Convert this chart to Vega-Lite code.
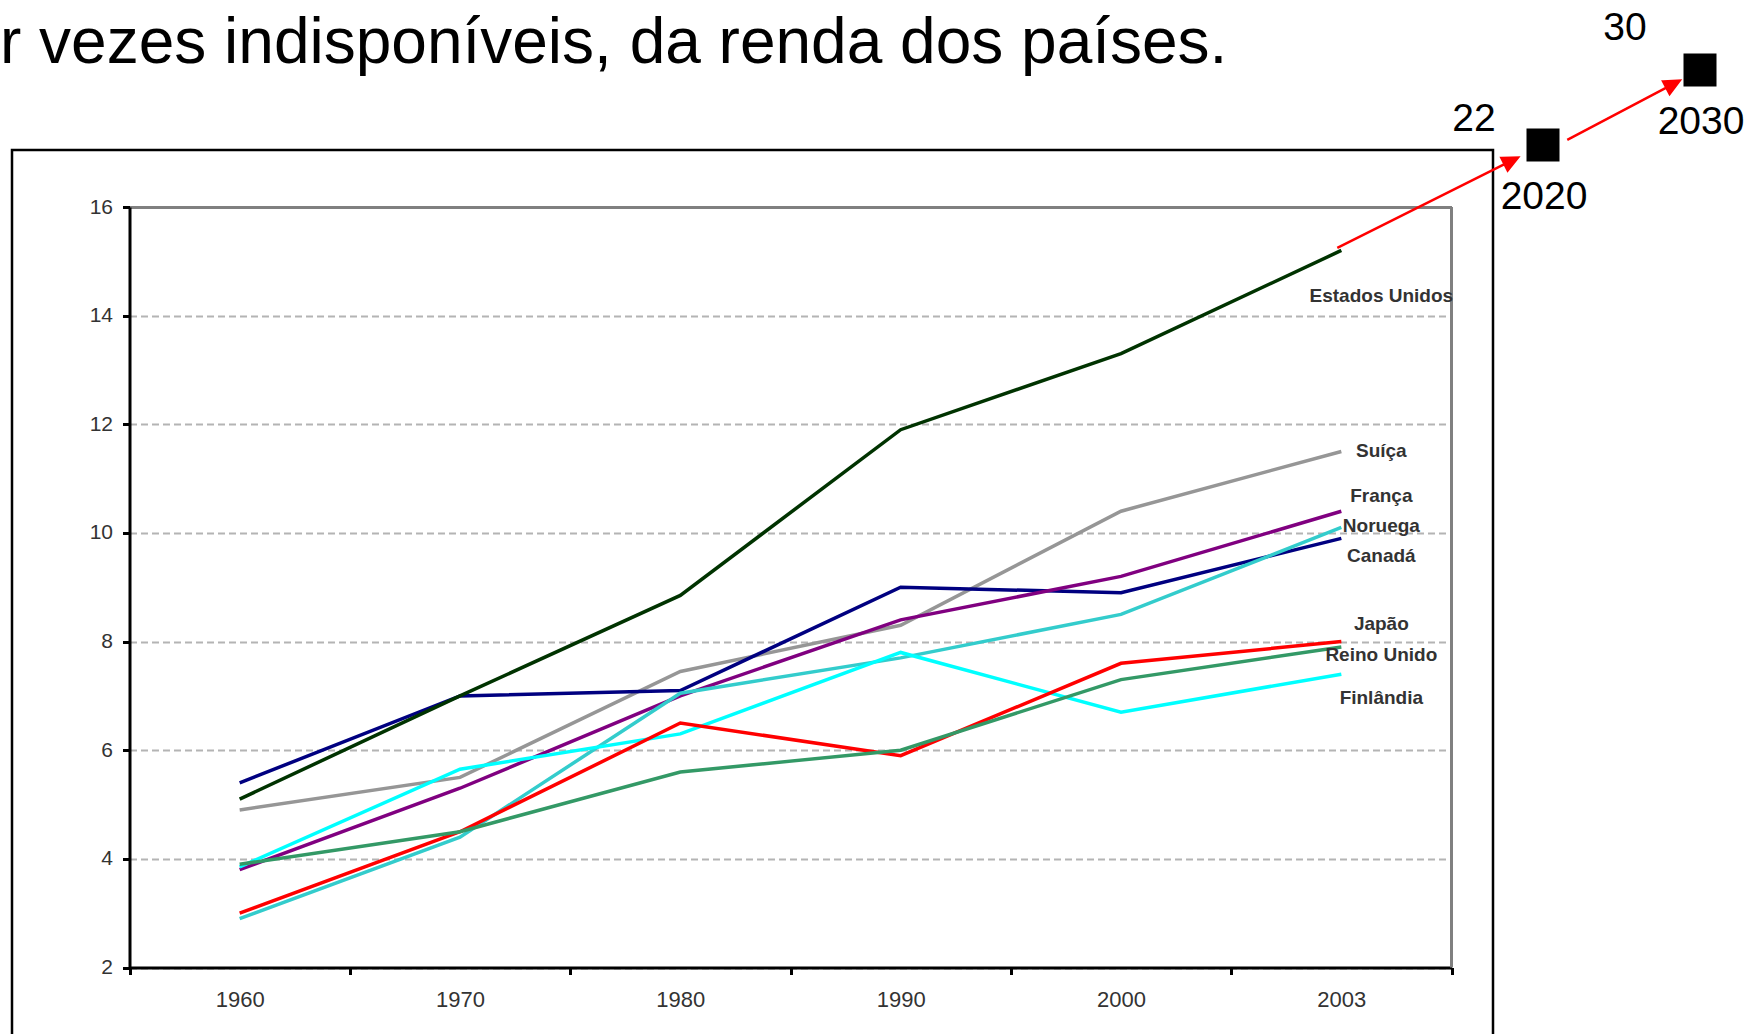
{
  "$schema": "https://vega.github.io/schema/vega-lite/v6.json",
  "autosize": {"type": "none"},
  "width": 1481,
  "height": 890,
  "padding": {"left": 12, "top": 150, "right": 271, "bottom": 0},
  "background": "white",
  "config": {
    "view": {"stroke": "#000000", "strokeWidth": 2.5},
    "font": "Liberation Sans"
  },
  "title": {
    "text": "r vezes indisponíveis, da renda dos países.",
    "orient": "top",
    "anchor": "start",
    "frame": "group",
    "offset": 0,
    "dx": -12,
    "dy": 117.5,
    "baseline": "alphabetic",
    "fontSize": 64,
    "fontWeight": "normal",
    "color": "#000000",
    "font": "Liberation Sans"
  },
  "datasets": {
    "series": [
      {"country": "Suíça", "year": "1960", "value": 4.9},
      {"country": "Suíça", "year": "1970", "value": 5.5},
      {"country": "Suíça", "year": "1980", "value": 7.45},
      {"country": "Suíça", "year": "1990", "value": 8.3},
      {"country": "Suíça", "year": "2000", "value": 10.4},
      {"country": "Suíça", "year": "2003", "value": 11.5},
      {"country": "Canadá", "year": "1960", "value": 5.4},
      {"country": "Canadá", "year": "1970", "value": 7.0},
      {"country": "Canadá", "year": "1980", "value": 7.1},
      {"country": "Canadá", "year": "1990", "value": 9.0},
      {"country": "Canadá", "year": "2000", "value": 8.9},
      {"country": "Canadá", "year": "2003", "value": 9.9},
      {"country": "França", "year": "1960", "value": 3.8},
      {"country": "França", "year": "1970", "value": 5.3},
      {"country": "França", "year": "1980", "value": 7.0},
      {"country": "França", "year": "1990", "value": 8.4},
      {"country": "França", "year": "2000", "value": 9.2},
      {"country": "França", "year": "2003", "value": 10.4},
      {"country": "Noruega", "year": "1960", "value": 2.9},
      {"country": "Noruega", "year": "1970", "value": 4.4},
      {"country": "Noruega", "year": "1980", "value": 7.05},
      {"country": "Noruega", "year": "1990", "value": 7.7},
      {"country": "Noruega", "year": "2000", "value": 8.5},
      {"country": "Noruega", "year": "2003", "value": 10.1},
      {"country": "Finlândia", "year": "1960", "value": 3.85},
      {"country": "Finlândia", "year": "1970", "value": 5.65},
      {"country": "Finlândia", "year": "1980", "value": 6.3},
      {"country": "Finlândia", "year": "1990", "value": 7.8},
      {"country": "Finlândia", "year": "2000", "value": 6.7},
      {"country": "Finlândia", "year": "2003", "value": 7.4},
      {"country": "Japão", "year": "1960", "value": 3.0},
      {"country": "Japão", "year": "1970", "value": 4.5},
      {"country": "Japão", "year": "1980", "value": 6.5},
      {"country": "Japão", "year": "1990", "value": 5.9},
      {"country": "Japão", "year": "2000", "value": 7.6},
      {"country": "Japão", "year": "2003", "value": 8.0},
      {"country": "Reino Unido", "year": "1960", "value": 3.9},
      {"country": "Reino Unido", "year": "1970", "value": 4.5},
      {"country": "Reino Unido", "year": "1980", "value": 5.6},
      {"country": "Reino Unido", "year": "1990", "value": 6.0},
      {"country": "Reino Unido", "year": "2000", "value": 7.3},
      {"country": "Reino Unido", "year": "2003", "value": 7.9},
      {"country": "Estados Unidos", "year": "1960", "value": 5.1},
      {"country": "Estados Unidos", "year": "1970", "value": 7.0},
      {"country": "Estados Unidos", "year": "1980", "value": 8.85},
      {"country": "Estados Unidos", "year": "1990", "value": 11.9},
      {"country": "Estados Unidos", "year": "2000", "value": 13.3},
      {"country": "Estados Unidos", "year": "2003", "value": 15.2}
    ],
    "labels": [
      {"country": "Estados Unidos", "year": "2003", "labelAt": 14.36},
      {"country": "Suíça", "year": "2003", "labelAt": 11.51},
      {"country": "França", "year": "2003", "labelAt": 10.68},
      {"country": "Noruega", "year": "2003", "labelAt": 10.12},
      {"country": "Canadá", "year": "2003", "labelAt": 9.57},
      {"country": "Japão", "year": "2003", "labelAt": 8.32},
      {"country": "Reino Unido", "year": "2003", "labelAt": 7.75},
      {"country": "Finlândia", "year": "2003", "labelAt": 6.97}
    ],
    "projection": [
      {"year": 2020, "value": 22},
      {"year": 2030, "value": 30}
    ]
  },
  "layer": [
    {
      "layer": [
        {
          "data": {"name": "series"},
          "mark": {"type": "line", "strokeWidth": 3.5},
          "encoding": {
            "x": {
              "field": "year",
              "type": "ordinal",
              "scale": {"type": "band", "domain": ["1960", "1970", "1980", "1990", "2000", "2003"], "range": [117.5, 1439.5], "paddingInner": 0, "paddingOuter": 0},
              "axis": {
                "orient": "bottom",
                "offset": -72.5,
                "tickBand": "extent",
                "domainColor": "#000000",
                "domainWidth": 3,
                "tickColor": "#000000",
                "tickWidth": 3,
                "tickSize": 7,
                "labelFontSize": 22,
                "labelFont": "Liberation Sans",
                "labelColor": "#333333",
                "labelPadding": 15,
                "labelAngle": 0,
                "grid": false,
                "title": null
              }
            },
            "y": {
              "field": "value",
              "type": "quantitative",
              "scale": {"domain": [2, 16], "range": [817.5, 57], "nice": false, "zero": false},
              "axis": {
                "orient": "left",
                "offset": -117.5,
                "values": [2, 4, 6, 8, 10, 12, 14, 16],
                "format": "d",
                "domainColor": "#000000",
                "domainWidth": 3,
                "tickColor": "#000000",
                "tickWidth": 3,
                "tickSize": 7,
                "labelFontSize": 21,
                "labelFont": "Liberation Sans",
                "labelColor": "#333333",
                "labelPadding": 10,
                "grid": true,
                "gridColor": {"condition": {"test": "datum.value === 16", "value": "#808080"}, "value": "#b4b4b4"},
                "gridDash": {"condition": {"test": "datum.value === 16", "value": []}, "value": [7, 4]},
                "gridWidth": {"condition": {"test": "datum.value === 16", "value": 3}, "value": 2},
                "title": null
              }
            },
            "color": {
              "field": "country",
              "type": "nominal",
              "scale": {
                "domain": ["Suíça", "Canadá", "França", "Noruega", "Finlândia", "Japão", "Reino Unido", "Estados Unidos"],
                "range": ["#969696", "#000080", "#800080", "#33CCCC", "#00FFFF", "#FF0000", "#339966", "#003300"]
              },
              "legend": null
            }
          }
        },
        {
          "data": {"values": [{"edge": "right"}]},
          "mark": {"type": "rule", "color": "#808080", "strokeWidth": 3},
          "encoding": {
            "x": {"datum": "2003", "type": "ordinal", "bandPosition": 1},
            "y": {"datum": 2, "type": "quantitative"},
            "y2": {"datum": 16}
          }
        },
        {
          "data": {"name": "labels"},
          "mark": {"type": "text", "align": "center", "baseline": "middle", "dx": 40, "fontSize": 19, "fontWeight": "bold", "color": "#333333", "font": "Liberation Sans"},
          "encoding": {
            "x": {"field": "year", "type": "ordinal"},
            "y": {"field": "labelAt", "type": "quantitative"},
            "text": {"field": "country", "type": "nominal"}
          }
        }
      ]
    },
    {
      "data": {"name": "projection"},
      "encoding": {
        "x": {"field": "year", "type": "quantitative", "scale": {"domain": [2020, 2030], "range": [1531, 1688], "nice": false, "zero": false}, "axis": null},
        "y": {"field": "value", "type": "quantitative", "scale": {"domain": [22, 30], "range": [-5, -80], "nice": false, "zero": false}, "axis": null}
      },
      "layer": [
        {
          "transform": [{"filter": "datum.year === 2020"}],
          "mark": {"type": "point", "shape": "M -230 0 L -43 0 M -43 -7 L -28 0 L -43 7 Z", "size": 4, "angle": 333.43, "filled": true, "fill": "#ff0000", "stroke": "#ff0000", "strokeWidth": 2.5, "opacity": 1}
        },
        {
          "transform": [{"filter": "datum.year === 2030"}],
          "mark": {"type": "point", "shape": "M -150 0 L -38 0 M -38 -7 L -23 0 L -38 7 Z", "size": 4, "angle": 332.24, "filled": true, "fill": "#ff0000", "stroke": "#ff0000", "strokeWidth": 2.5, "opacity": 1}
        },
        {
          "mark": {"type": "square", "size": 1089, "color": "#000000", "opacity": 1, "filled": true}
        },
        {
          "transform": [{"filter": "datum.year === 2020"}],
          "mark": {"type": "text", "align": "center", "baseline": "middle", "dx": -69, "dy": -26, "fontSize": 39, "color": "#000000", "font": "Liberation Sans"},
          "encoding": {"text": {"field": "value", "type": "nominal"}}
        },
        {
          "transform": [{"filter": "datum.year === 2030"}],
          "mark": {"type": "text", "align": "center", "baseline": "middle", "dx": -75, "dy": -42, "fontSize": 39, "color": "#000000", "font": "Liberation Sans"},
          "encoding": {"text": {"field": "value", "type": "nominal"}}
        },
        {
          "mark": {"type": "text", "align": "center", "baseline": "middle", "dx": 1, "dy": 52, "fontSize": 39, "color": "#000000", "font": "Liberation Sans"},
          "encoding": {"text": {"field": "year", "type": "nominal"}}
        }
      ]
    }
  ],
  "resolve": {"scale": {"x": "independent", "y": "independent"}}
}
